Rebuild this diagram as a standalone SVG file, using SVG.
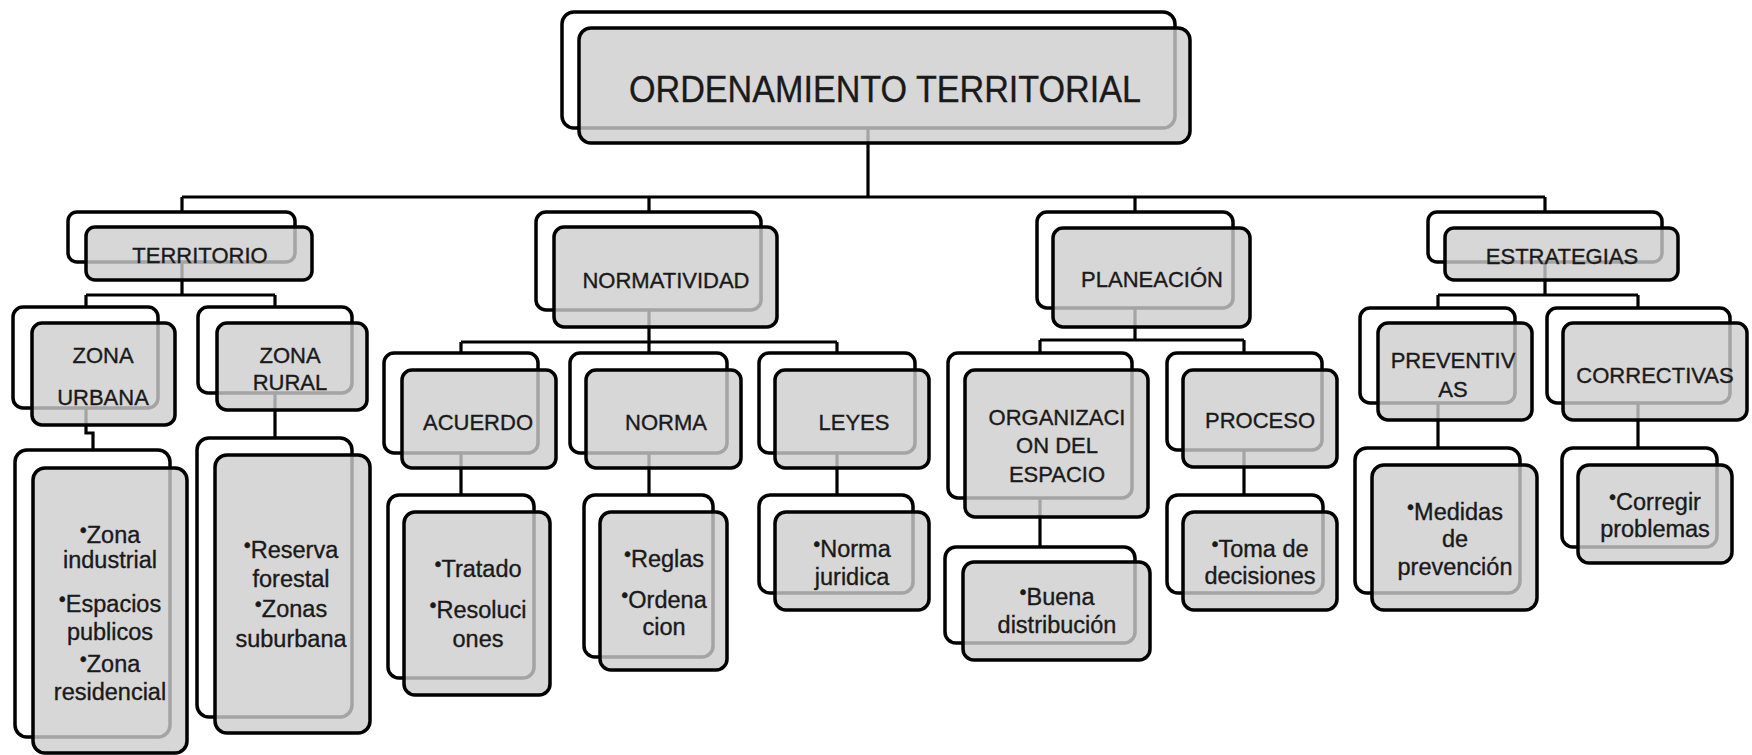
<svg xmlns="http://www.w3.org/2000/svg" width="1752" height="755" viewBox="0 0 1752 755">
<style>
.bk{fill:#fff;stroke:#000;stroke-width:3.5}
.fr{fill:#cdcdcd;fill-opacity:0.8;stroke:#000;stroke-width:3.5}
.c{fill:none;stroke:#000;stroke-width:3.2}
.t{font-family:"Liberation Sans",Arial,sans-serif;fill:#1a1a1a;stroke:#1a1a1a;stroke-width:0.35;text-anchor:middle}
.m{font-size:22px}
.l{font-size:23.5px}
.b{font-size:20px}
</style>
<rect width="1752" height="755" fill="#fff"/>
<g id="connectors">
<path class="c" d="M868,128 V197 M182,197 H1545 M182,197 V212 M649,197 V212 M1135,197 V212 M1545,197 V212"/>
<path class="c" d="M182,262 V295 M86,295 H275 M86,295 V307 M275,295 V307 M86,408 V433 H93 V450 M275,393 V438"/>
<path class="c" d="M649,310 V342 M461,342 H837 M461,342 V353 M649,342 V353 M837,342 V353 M461,453 V495 M649,453 V495 M837,453 V495"/>
<path class="c" d="M1135,308 V340 M1040,340 H1244 M1040,340 V353 M1244,340 V353 M1040,498 V547 M1244,450 V495"/>
<path class="c" d="M1545,262 V295 M1438,295 H1638 M1438,295 V308 M1638,295 V308 M1438,403 V448 M1638,403 V448"/>
</g>
<g id="root">
<rect class="bk" x="562" y="12" width="613" height="116" rx="12"/>
<rect class="fr" x="579" y="28" width="611" height="115" rx="12"/>
<text class="t" x="885" y="102" font-size="36" textLength="512" lengthAdjust="spacingAndGlyphs">ORDENAMIENTO TERRITORIAL</text>
</g>
<g id="territorio">
<rect class="bk" x="68" y="212" width="227" height="50" rx="9"/>
<rect class="fr" x="86" y="227" width="226" height="53" rx="9"/>
<text class="t m" x="200" y="263">TERRITORIO</text>
</g>
<g id="normatividad">
<rect class="bk" x="536" y="212" width="225" height="98" rx="10"/>
<rect class="fr" x="554" y="227" width="223" height="100" rx="10"/>
<text class="t m" x="666" y="288">NORMATIVIDAD</text>
</g>
<g id="planeacion">
<rect class="bk" x="1037" y="212" width="196" height="96" rx="10"/>
<rect class="fr" x="1053" y="228" width="197" height="99" rx="10"/>
<text class="t m" x="1152" y="287">PLANEACIÓN</text>
</g>
<g id="estrategias">
<rect class="bk" x="1428" y="212" width="234" height="50" rx="9"/>
<rect class="fr" x="1445" y="228" width="233" height="52" rx="9"/>
<text class="t m" x="1562" y="264">ESTRATEGIAS</text>
</g>
<g id="zona-urbana">
<rect class="bk" x="13" y="307" width="145" height="101" rx="10"/>
<rect class="fr" x="32" y="323" width="143" height="102" rx="10"/>
<text class="t m" x="103" y="363">ZONA</text>
<text class="t m" x="103" y="405">URBANA</text>
</g>
<g id="zona-rural">
<rect class="bk" x="198" y="307" width="154" height="86" rx="10"/>
<rect class="fr" x="217" y="323" width="150" height="87" rx="10"/>
<text class="t m" x="290" y="363">ZONA</text>
<text class="t m" x="290" y="390">RURAL</text>
</g>
<g id="acuerdo">
<rect class="bk" x="384" y="353" width="154" height="100" rx="10"/>
<rect class="fr" x="402" y="370" width="154" height="98" rx="10"/>
<text class="t m" x="478" y="430">ACUERDO</text>
</g>
<g id="norma">
<rect class="bk" x="570" y="353" width="157" height="100" rx="10"/>
<rect class="fr" x="586" y="370" width="155" height="98" rx="10"/>
<text class="t m" x="666" y="430">NORMA</text>
</g>
<g id="leyes">
<rect class="bk" x="759" y="353" width="156" height="100" rx="10"/>
<rect class="fr" x="775" y="370" width="154" height="98" rx="10"/>
<text class="t m" x="854" y="430">LEYES</text>
</g>
<g id="organizacion">
<rect class="bk" x="948" y="353" width="184" height="145" rx="10"/>
<rect class="fr" x="965" y="370" width="183" height="147" rx="10"/>
<text class="t m" x="1057" y="425">ORGANIZACI</text>
<text class="t m" x="1057" y="453">ON DEL</text>
<text class="t m" x="1057" y="482">ESPACIO</text>
</g>
<g id="proceso">
<rect class="bk" x="1167" y="353" width="155" height="97" rx="10"/>
<rect class="fr" x="1183" y="370" width="154" height="97" rx="10"/>
<text class="t m" x="1260" y="428">PROCESO</text>
</g>
<g id="preventivas">
<rect class="bk" x="1360" y="308" width="155" height="95" rx="10"/>
<rect class="fr" x="1378" y="323" width="154" height="97" rx="10"/>
<text class="t m" x="1453" y="368">PREVENTIV</text>
<text class="t m" x="1453" y="397">AS</text>
</g>
<g id="correctivas">
<rect class="bk" x="1547" y="308" width="183" height="95" rx="10"/>
<rect class="fr" x="1563" y="323" width="184" height="97" rx="10"/>
<text class="t m" x="1655" y="383">CORRECTIVAS</text>
</g>
<g id="leaf-urbana">
<rect class="bk" x="15" y="450" width="155" height="287" rx="12"/>
<rect class="fr" x="33" y="468" width="154" height="285" rx="12"/>
<text class="t l" x="110" y="543"><tspan class="b" dy="-6">•</tspan><tspan dy="6">Zona</tspan></text>
<text class="t l" x="110" y="568">industrial</text>
<text class="t l" x="110" y="612"><tspan class="b" dy="-6">•</tspan><tspan dy="6">Espacios</tspan></text>
<text class="t l" x="110" y="640">publicos</text>
<text class="t l" x="110" y="672"><tspan class="b" dy="-6">•</tspan><tspan dy="6">Zona</tspan></text>
<text class="t l" x="110" y="700">residencial</text>
</g>
<g id="leaf-rural">
<rect class="bk" x="197" y="438" width="155" height="279" rx="12"/>
<rect class="fr" x="215" y="455" width="155" height="278" rx="12"/>
<text class="t l" x="291" y="558"><tspan class="b" dy="-6">•</tspan><tspan dy="6">Reserva</tspan></text>
<text class="t l" x="291" y="587">forestal</text>
<text class="t l" x="291" y="617"><tspan class="b" dy="-6">•</tspan><tspan dy="6">Zonas</tspan></text>
<text class="t l" x="291" y="647">suburbana</text>
</g>
<g id="leaf-acuerdo">
<rect class="bk" x="388" y="495" width="146" height="183" rx="11"/>
<rect class="fr" x="404" y="512" width="146" height="183" rx="11"/>
<text class="t l" x="478" y="577"><tspan class="b" dy="-6">•</tspan><tspan dy="6">Tratado</tspan></text>
<text class="t l" x="478" y="618"><tspan class="b" dy="-6">•</tspan><tspan dy="6">Resoluci</tspan></text>
<text class="t l" x="478" y="647">ones</text>
</g>
<g id="leaf-norma">
<rect class="bk" x="584" y="495" width="129" height="162" rx="11"/>
<rect class="fr" x="600" y="512" width="127" height="158" rx="11"/>
<text class="t l" x="664" y="567"><tspan class="b" dy="-6">•</tspan><tspan dy="6">Reglas</tspan></text>
<text class="t l" x="664" y="608"><tspan class="b" dy="-6">•</tspan><tspan dy="6">Ordena</tspan></text>
<text class="t l" x="664" y="635">cion</text>
</g>
<g id="leaf-leyes">
<rect class="bk" x="759" y="495" width="154" height="98" rx="11"/>
<rect class="fr" x="775" y="512" width="154" height="98" rx="11"/>
<text class="t l" x="852" y="557"><tspan class="b" dy="-6">•</tspan><tspan dy="6">Norma</tspan></text>
<text class="t l" x="852" y="585">juridica</text>
</g>
<g id="leaf-organizacion">
<rect class="bk" x="945" y="547" width="190" height="96" rx="11"/>
<rect class="fr" x="963" y="562" width="187" height="98" rx="11"/>
<text class="t l" x="1057" y="605"><tspan class="b" dy="-6">•</tspan><tspan dy="6">Buena</tspan></text>
<text class="t l" x="1057" y="633">distribución</text>
</g>
<g id="leaf-proceso">
<rect class="bk" x="1167" y="495" width="156" height="98" rx="11"/>
<rect class="fr" x="1183" y="512" width="154" height="98" rx="11"/>
<text class="t l" x="1260" y="557"><tspan class="b" dy="-6">•</tspan><tspan dy="6">Toma de</tspan></text>
<text class="t l" x="1260" y="584">decisiones</text>
</g>
<g id="leaf-preventivas">
<rect class="bk" x="1355" y="448" width="165" height="145" rx="12"/>
<rect class="fr" x="1372" y="465" width="165" height="145" rx="12"/>
<text class="t l" x="1455" y="520"><tspan class="b" dy="-6">•</tspan><tspan dy="6">Medidas</tspan></text>
<text class="t l" x="1455" y="547">de</text>
<text class="t l" x="1455" y="575">prevención</text>
</g>
<g id="leaf-correctivas">
<rect class="bk" x="1562" y="448" width="155" height="99" rx="11"/>
<rect class="fr" x="1578" y="465" width="154" height="98" rx="11"/>
<text class="t l" x="1655" y="510"><tspan class="b" dy="-6">•</tspan><tspan dy="6">Corregir</tspan></text>
<text class="t l" x="1655" y="537">problemas</text>
</g>
</svg>
